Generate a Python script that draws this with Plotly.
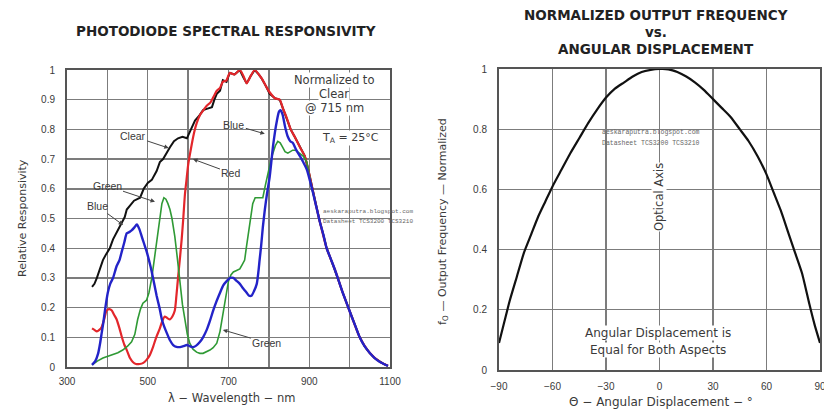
import plotly.graph_objects as go

W, H = 824, 410

# ---------------- data: spectral responsivity ----------------
clear_wl = [362, 368, 374, 381, 389, 397, 406, 414, 426, 435, 443, 448, 458, 466, 481, 490, 500, 510, 522, 530,
            538, 546, 555, 565, 575, 586, 597, 607, 617, 627, 637, 648, 659, 665, 671, 679, 686, 695, 703, 715,
            728, 737, 745, 755, 765, 775, 783, 793, 802, 815, 827, 835, 844, 854, 864, 877, 889, 900, 914, 926,
            935, 943, 953, 963, 973, 983, 994, 1005, 1015, 1025, 1037, 1050, 1062, 1075, 1085, 1095]
clear_val = [0.27, 0.28, 0.30, 0.33, 0.36, 0.38, 0.40, 0.43, 0.46, 0.48, 0.505, 0.53, 0.545, 0.56, 0.57, 0.60, 0.62, 0.63, 0.66, 0.69,
             0.70, 0.72, 0.74, 0.76, 0.77, 0.775, 0.77, 0.80, 0.83, 0.845, 0.865, 0.87, 0.875, 0.90, 0.92, 0.93, 0.966, 0.96, 0.99, 0.985,
             1.0, 0.975, 0.955, 0.98, 1.0, 0.985, 0.97, 0.945, 0.92, 0.905, 0.90, 0.87, 0.84, 0.80, 0.775, 0.74, 0.71, 0.65, 0.56, 0.49,
             0.445, 0.40, 0.365, 0.33, 0.29, 0.25, 0.21, 0.17, 0.135, 0.10, 0.07, 0.047, 0.03, 0.017, 0.01, 0.004]

red_wl = [362, 368, 374, 380, 386, 392, 398, 405, 411, 417, 423, 430, 436, 442, 448, 456, 463, 471, 480, 489,
          497, 505, 513, 521, 530, 536, 542, 548, 555, 561, 567, 571, 575, 580, 584, 588, 592, 596, 600, 605,
          609, 615, 621, 630, 638, 646, 655, 663, 671, 679, 686, 695, 703, 715, 728, 737, 745, 755, 765, 775,
          783, 793, 802, 815, 827, 835, 844, 854, 864, 877, 889, 900, 914, 926, 943, 963, 983, 1005, 1025, 1050,
          1075, 1095]
red_val = [0.13, 0.125, 0.12, 0.125, 0.135, 0.16, 0.19, 0.195, 0.19, 0.175, 0.16, 0.13, 0.10, 0.075, 0.057, 0.03, 0.017, 0.01, 0.01, 0.014,
           0.024, 0.04, 0.067, 0.10, 0.13, 0.155, 0.17, 0.165, 0.16, 0.17, 0.19, 0.24, 0.30, 0.37, 0.43, 0.50, 0.58, 0.63, 0.68, 0.72,
           0.75, 0.79, 0.82, 0.85, 0.865, 0.88, 0.89, 0.91, 0.93, 0.94, 0.96, 0.965, 0.99, 0.985, 1.0, 0.98, 0.955, 0.98, 1.0, 0.985,
           0.97, 0.945, 0.925, 0.905, 0.90, 0.87, 0.84, 0.80, 0.775, 0.74, 0.71, 0.65, 0.56, 0.49, 0.40, 0.33, 0.25, 0.17, 0.10, 0.047,
           0.017, 0.004]

green_wl = [362, 375, 389, 400, 414, 426, 438, 450, 460, 468, 475, 482, 488, 497, 503, 510, 516, 522, 530, 535,
            540, 545, 550, 555, 560, 567, 573, 580, 586, 592, 598, 604, 612, 621, 629, 637, 645, 654, 662, 671,
            679, 686, 693, 700, 706, 712, 720, 728, 734, 740, 744, 748, 752, 757, 760, 766, 772, 778, 785, 791,
            797, 804, 810, 816, 822, 828, 834, 840, 847, 853, 859, 866, 877, 885, 894, 905, 914]
green_val = [0.007, 0.02, 0.03, 0.035, 0.04, 0.048, 0.057, 0.07, 0.085, 0.11, 0.16, 0.195, 0.215, 0.225, 0.25, 0.30, 0.36, 0.42, 0.495, 0.55,
             0.57, 0.565, 0.55, 0.53, 0.50, 0.44, 0.37, 0.28, 0.21, 0.16, 0.11, 0.08, 0.06, 0.05, 0.046, 0.046, 0.05, 0.057, 0.065, 0.08,
             0.12, 0.18, 0.24, 0.29, 0.31, 0.32, 0.325, 0.33, 0.345, 0.36, 0.40, 0.44, 0.48, 0.52, 0.55, 0.57, 0.57, 0.57, 0.57, 0.61,
             0.65, 0.69, 0.72, 0.745, 0.76, 0.755, 0.74, 0.725, 0.72, 0.725, 0.73, 0.73, 0.72, 0.71, 0.69, 0.61, 0.56]

blue_wl = [362, 370, 377, 382, 386, 390, 394, 401, 407, 414, 423, 430, 436, 442, 448, 455, 460, 467, 473, 479,
           485, 491, 497, 503, 510, 516, 522, 529, 535, 541, 547, 555, 563, 571, 580, 588, 597, 604, 612, 620,
           629, 637, 646, 654, 662, 670, 679, 687, 696, 704, 712, 720, 728, 736, 745, 751, 757, 763, 770, 774,
           777, 781, 785, 790, 795, 802, 806, 810, 815, 820, 825, 829, 834, 840, 847, 853, 859, 868, 877, 885,
           894, 905, 914, 926, 935, 943, 953, 963, 973, 983, 994, 1005, 1015, 1025, 1037, 1050, 1062, 1075, 1085, 1095]
blue_val = [0.007, 0.02, 0.045, 0.08, 0.115, 0.15, 0.19, 0.25, 0.28, 0.30, 0.34, 0.36, 0.39, 0.42, 0.45, 0.455, 0.46, 0.47, 0.48, 0.465,
            0.44, 0.415, 0.39, 0.36, 0.32, 0.28, 0.24, 0.20, 0.16, 0.135, 0.115, 0.09, 0.074, 0.068, 0.067, 0.07, 0.074, 0.07, 0.067, 0.072,
            0.084, 0.10, 0.125, 0.155, 0.19, 0.22, 0.25, 0.275, 0.29, 0.30, 0.30, 0.29, 0.28, 0.265, 0.25, 0.24, 0.24, 0.255, 0.28, 0.32,
            0.36, 0.41, 0.47, 0.53, 0.58, 0.64, 0.69, 0.74, 0.79, 0.83, 0.86, 0.865, 0.85, 0.81, 0.775, 0.76, 0.755, 0.73, 0.71, 0.69,
            0.665, 0.61, 0.56, 0.49, 0.445, 0.40, 0.365, 0.33, 0.29, 0.25, 0.21, 0.17, 0.135, 0.10, 0.07, 0.047, 0.03, 0.017, 0.01, 0.004]

wl_ticks = [300, 500, 700, 900, 1100]
wl_tick_labels = ["300", "500", "700", "900", "1100"]
resp_ticks = [0, 0.1, 0.2, 0.3, 0.4, 0.5, 0.6, 0.7, 0.8, 0.9, 1]
resp_tick_labels = ["0", "0.1", "0.2", "0.3", "0.4", "0.5", "0.6", "0.7", "0.8", "0.9", "1"]

# ---------------- data: angular displacement ----------------
angle_deg = [-90, -87, -84, -80, -76, -72, -68, -64, -60, -55, -50, -45, -40, -35, -30, -25, -20, -15, -10, -5, 0, 5,
             10, 15, 20, 25, 30, 35, 40, 45, 50, 55, 60, 64, 68, 72, 76, 80, 84, 87, 90]
freq_norm = [0.09, 0.16, 0.23, 0.31, 0.39, 0.45, 0.51, 0.56, 0.61, 0.665, 0.72, 0.77, 0.82, 0.865, 0.905, 0.935, 0.955, 0.975, 0.99, 0.997, 1.0, 0.999,
             0.99, 0.975, 0.955, 0.93, 0.90, 0.87, 0.84, 0.80, 0.76, 0.71, 0.65, 0.59, 0.53, 0.46, 0.39, 0.32, 0.22, 0.15, 0.09]
angle_ticks = [-90, -60, -30, 0, 30, 60, 90]
freq_ticks = [0, 0.2, 0.4, 0.6, 0.8, 1]
freq_tick_labels = ["0", "0.2", "0.4", "0.6", "0.8", "1"]

FONT = "Liberation Sans, Arial, Helvetica, sans-serif"
WIDE = "DejaVu Sans, Verdana, sans-serif"
GRID = "#7c7c7c"
BORDER = "#555555"
TXT = "#3a3a3a"

fig = go.Figure()
fig.add_trace(go.Scatter(x=clear_wl, y=clear_val, mode="lines", line=dict(color="#111111", width=2), xaxis="x", yaxis="y"))
fig.add_trace(go.Scatter(x=red_wl, y=red_val, mode="lines", line=dict(color="#e3262b", width=2.2, shape="spline", smoothing=0.6), xaxis="x", yaxis="y"))
fig.add_trace(go.Scatter(x=green_wl, y=green_val, mode="lines", line=dict(color="#2f9a35", width=1.6), xaxis="x", yaxis="y"))
fig.add_trace(go.Scatter(x=blue_wl, y=blue_val, mode="lines", line=dict(color="#2323c8", width=2.4, shape="spline", smoothing=0.6), xaxis="x", yaxis="y"))
fig.add_trace(go.Scatter(x=angle_deg, y=freq_norm, mode="lines", line=dict(color="#111111", width=2.2, shape="spline", smoothing=0.5), xaxis="x2", yaxis="y2"))


def px(x, y):
    return x / W, 1 - y / H


def add_text(x, y, text, size=10, color=TXT, angle=0, bg=None, family=WIDE, xanchor="center"):
    ax_, ay_ = px(x, y)
    fig.add_annotation(x=ax_, y=ay_, xref="paper", yref="paper", text=text, showarrow=False,
                       font=dict(size=size, color=color, family=family), textangle=angle,
                       xanchor=xanchor, yanchor="middle", bgcolor=bg, borderpad=0)


# titles
add_text(226, 31, "<b>PHOTODIODE SPECTRAL RESPONSIVITY</b>", size=13.5, color="#222")
add_text(656, 15, "<b>NORMALIZED OUTPUT FREQUENCY</b>", size=13.5, color="#222")
add_text(656, 32, "<b>vs.</b>", size=13.5, color="#222")
add_text(656, 49, "<b>ANGULAR DISPLACEMENT</b>", size=13.5, color="#222")

# axis titles
add_text(231, 398, "λ − Wavelength − nm", size=11.5)
add_text(22, 218, "Relative Responsivity", size=11, angle=-90)
add_text(661, 402, "Θ − Angular Displacement − °", size=12)
add_text(443, 222, "f<sub>O</sub> — Output Frequency — Normalized", size=11, angle=-90)

# left panel notes
add_text(334, 80, "Normalized to", size=11.5, bg="white")
add_text(334, 94, "Clear", size=11.5, bg="white")
add_text(334, 108, "@ 715 nm", size=11.5, bg="white")
add_text(350, 138, "T<sub>A</sub> = 25°C", size=11, bg="white")

# right panel notes
add_text(658, 333, "Angular Displacement is", size=12, bg="white")
add_text(658, 350, "Equal for Both Aspects", size=12, bg="white")
add_text(659, 197, "Optical Axis", size=11.5, angle=-90, bg="white")

# watermarks
MONO = "Liberation Mono, DejaVu Sans Mono, monospace"
add_text(322, 211, "aeskaraputra.blogspot.com", size=6, color="#666", family=MONO, xanchor="left")
add_text(322, 221, "Datasheet TCS3200 TCS3210", size=6, color="#666", family=MONO, xanchor="left")
add_text(601, 132, "aeskaraputra.blogspot.com", size=6.5, color="#666", family=MONO, xanchor="left")
add_text(601, 143, "Datasheet TCS3200 TCS3210", size=6.5, color="#666", family=MONO, xanchor="left")


def pointer(text, x, y, ax, ay):
    fig.add_annotation(x=x, y=y, xref="x", yref="y", text=text, showarrow=True, ax=ax, ay=ay,
                       arrowhead=2, arrowsize=0.9, arrowwidth=1, arrowcolor="#444",
                       font=dict(size=10.5, color=TXT, family=FONT), standoff=0, startstandoff=0)


pointer("Clear", 552, 0.737, -36, -12)
pointer("Red", 612, 0.70, 38, 14)
pointer("Blue", 790, 0.785, -31, -9)
pointer("Green", 518, 0.556, -48, -16)
pointer("Blue", 439, 0.478, -26, -19)
pointer("Green", 686, 0.125, 44, 13)

axis_common = dict(showline=True, mirror=True, linecolor=BORDER, linewidth=2, showgrid=True,
                   gridcolor=GRID, gridwidth=1.4, zeroline=False, ticks="", automargin=False,
                   ticklabeloverflow="allow",
                   tickfont=dict(size=10, color=TXT, family=FONT))

fig.update_layout(
    width=W, height=H, margin=dict(l=0, r=0, t=0, b=0, autoexpand=False),
    paper_bgcolor="white", plot_bgcolor="white", showlegend=False,
    font=dict(family=FONT, color=TXT),
    xaxis=dict(domain=[67 / W, 390 / W], range=[300, 1100], anchor="y",
               tickmode="array", tickvals=wl_ticks, ticktext=wl_tick_labels, ticklabelstandoff=4,
               minor=dict(dtick=100, tick0=300, showgrid=True, gridcolor=GRID, gridwidth=1.4, ticks=""),
               **axis_common),
    yaxis=dict(domain=[1 - 367 / H, 1 - 70 / H], range=[0, 1], anchor="x",
               tickmode="array", tickvals=resp_ticks, ticktext=resp_tick_labels, ticklabelstandoff=8, **axis_common),
    xaxis2=dict(domain=[499 / W, 820 / W], range=[-90, 90], anchor="y2",
                tickmode="array", tickvals=angle_ticks, ticklabelstandoff=6, **axis_common),
    yaxis2=dict(domain=[1 - 370 / H, 1 - 69 / H], range=[0, 1], anchor="x2",
                tickmode="array", tickvals=freq_ticks, ticktext=freq_tick_labels, ticklabelstandoff=8, **axis_common),
)

fig.write_html("out.html", config={"displayModeBar": False, "staticPlot": True},
               post_script="document.body.style.margin='0px';")
